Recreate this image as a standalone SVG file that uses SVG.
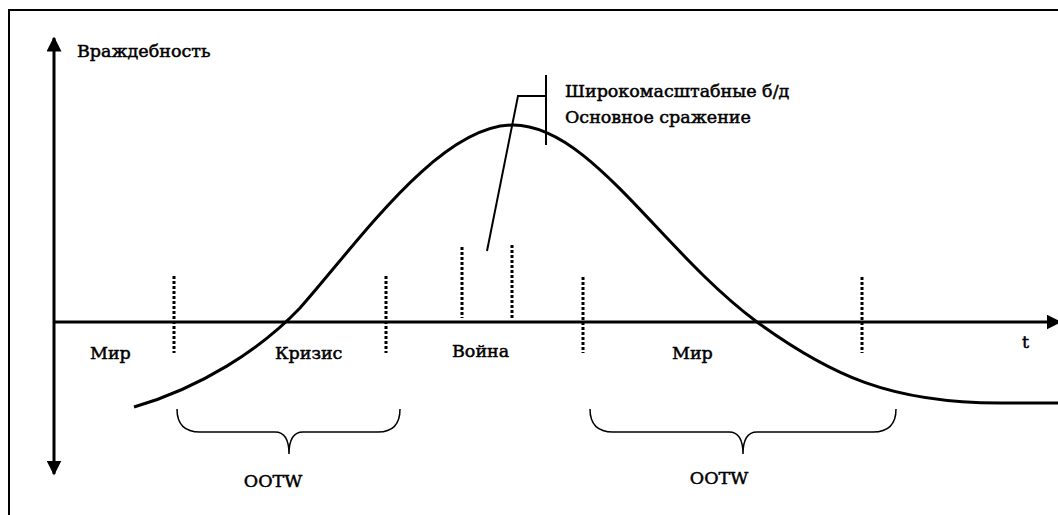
<svg xmlns="http://www.w3.org/2000/svg" width="1058" height="515" viewBox="0 0 1058 515">
<style>
.t{font-family:"DejaVu Serif",serif;font-size:17.5px;font-weight:normal;fill:#000;stroke:#000;stroke-width:0.5}
.ax{stroke:#000;stroke-width:3;fill:none}
.dot{stroke:#000;stroke-width:3;stroke-dasharray:3 2;fill:none}
.ln{stroke:#000;stroke-width:2;fill:none}
.br{stroke:#000;stroke-width:1.5;fill:none}
</style>
<defs>
<marker id="ah" viewBox="0 0 10 10" refX="9" refY="5" markerWidth="5" markerHeight="5" markerUnits="strokeWidth" orient="auto-start-reverse">
<path d="M0,0 L10,5 L0,10 z" fill="#000"/>
</marker>
</defs>
<rect x="9" y="10" width="1060" height="520" fill="#fff" stroke="#000" stroke-width="2"/>
<g id="connectors">
<line class="ax" x1="54" y1="38" x2="54" y2="474" marker-start="url(#ah)" marker-end="url(#ah)"/>
<line class="ax" x1="54" y1="322" x2="1060" y2="322" marker-end="url(#ah)"/>
<path class="ax" d="M134,407 C200,388 260,350 300,308 C360,240 440,125 513,125 C590,125 660,250 757,322 C830,375 890,403 1000,403 L1058,403"/>
<line class="dot" x1="174" y1="276" x2="174" y2="353"/>
<line class="dot" x1="386" y1="276" x2="386" y2="353"/>
<line class="dot" x1="462" y1="247" x2="462" y2="318"/>
<line class="dot" x1="512" y1="245" x2="512" y2="319"/>
<line class="dot" x1="583" y1="277" x2="583" y2="353"/>
<line class="dot" x1="862" y1="277" x2="862" y2="353"/>
<polyline class="ln" points="487,251 518,96 546,96"/>
<line class="ln" x1="546" y1="75" x2="546" y2="145"/>
<path class="br" d="M177,409 Q177,432 200,432 L275,432 Q289,432 289,454 Q289,432 303,432 L378,432 Q400,432 400,409"/>
<path class="br" d="M590,409 Q590,432 613,432 L729,432 Q743,432 743,454 Q743,432 757,432 L873,432 Q896,432 896,409"/>
</g>
<g id="label-y"><text class="t" x="77" y="57">Враждебность</text></g>
<g id="label-t"><text class="t" x="1022" y="348">t</text></g>
<g id="label-battle"><text class="t" x="565" y="97">Широкомасштабные б/д</text><text class="t" x="565" y="123">Основное сражение</text></g>
<g id="phase-peace1"><text class="t" x="90" y="359">Мир</text></g>
<g id="phase-crisis"><text class="t" x="275" y="359">Кризис</text></g>
<g id="phase-war"><text class="t" x="452" y="357">Война</text></g>
<g id="phase-peace2"><text class="t" x="672" y="359">Мир</text></g>
<g id="ootw1"><text class="t" x="273" y="487" text-anchor="middle">OOTW</text></g>
<g id="ootw2"><text class="t" x="719" y="484" text-anchor="middle">OOTW</text></g>
</svg>
